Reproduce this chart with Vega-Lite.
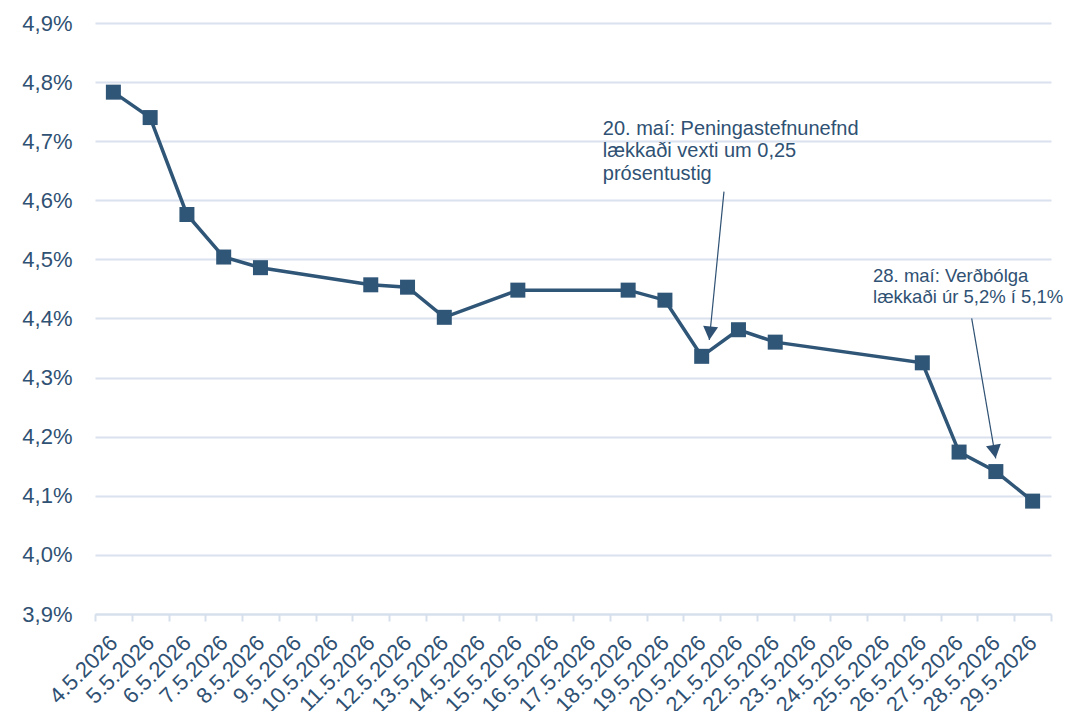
{
  "$schema": "https://vega.github.io/schema/vega-lite/v6.json",
  "width": 956,
  "height": 591,
  "autosize": {"type": "none"},
  "padding": {"left": 95, "top": 23, "right": 15, "bottom": 97},
  "background": "white",
  "config": {"view": {"stroke": null}, "font": "Liberation Sans"},
  "datasets": {
    "rates": [
      {"dagur": "4.5.2026", "vextir": 4.783},
      {"dagur": "5.5.2026", "vextir": 4.740},
      {"dagur": "6.5.2026", "vextir": 4.576},
      {"dagur": "7.5.2026", "vextir": 4.504},
      {"dagur": "8.5.2026", "vextir": 4.486},
      {"dagur": "11.5.2026", "vextir": 4.457},
      {"dagur": "12.5.2026", "vextir": 4.453},
      {"dagur": "13.5.2026", "vextir": 4.402},
      {"dagur": "15.5.2026", "vextir": 4.448},
      {"dagur": "18.5.2026", "vextir": 4.448},
      {"dagur": "19.5.2026", "vextir": 4.431},
      {"dagur": "20.5.2026", "vextir": 4.336},
      {"dagur": "21.5.2026", "vextir": 4.381},
      {"dagur": "22.5.2026", "vextir": 4.360},
      {"dagur": "26.5.2026", "vextir": 4.325},
      {"dagur": "27.5.2026", "vextir": 4.174},
      {"dagur": "28.5.2026", "vextir": 4.141},
      {"dagur": "29.5.2026", "vextir": 4.091}
    ],
    "notes": [
      {"id": "a", "lines": ["20. maí: Peningastefnunefnd", "lækkaði vexti um 0,25", "prósentustig"], "tx": 17.31, "ty": 4.7105, "x0": 20.606, "y0": 4.6146, "x1": 20.207, "y1": 4.3636},
      {"id": "b", "lines": ["28. maí: Verðbólga", "lækkaði úr 5,2% í 5,1%"], "tx": 24.66, "ty": 4.4623, "x0": 27.343, "y0": 4.4003, "x1": 27.996, "y1": 4.1634}
    ]
  },
  "layer": [
    {
      "data": {"name": "rates"},
      "encoding": {
        "x": {
          "field": "dagur",
          "type": "ordinal",
          "sort": null,
          "title": null,
          "scale": {
            "type": "band",
            "paddingInner": 0,
            "paddingOuter": 0,
            "domain": ["4.5.2026", "5.5.2026", "6.5.2026", "7.5.2026", "8.5.2026", "9.5.2026", "10.5.2026", "11.5.2026", "12.5.2026", "13.5.2026", "14.5.2026", "15.5.2026", "16.5.2026", "17.5.2026", "18.5.2026", "19.5.2026", "20.5.2026", "21.5.2026", "22.5.2026", "23.5.2026", "24.5.2026", "25.5.2026", "26.5.2026", "27.5.2026", "28.5.2026", "29.5.2026"]
          },
          "axis": {
            "labelAngle": -45,
            "labelAlign": "right",
            "labelBaseline": "middle",
            "labelFontSize": 22,
            "labelColor": "#2f5173",
            "labelPadding": 18,
            "tickBand": "extent",
            "domainColor": "#d6e0ec",
            "domainWidth": 2,
            "tickColor": "#d6e0ec",
            "tickWidth": 2,
            "tickSize": 7,
            "grid": false,
            "labelOverlap": false
          }
        },
        "y": {
          "field": "vextir",
          "type": "quantitative",
          "title": null,
          "scale": {"domain": [3.9, 4.9], "nice": false, "zero": false},
          "axis": {
            "values": [3.9, 4.0, 4.1, 4.2, 4.3, 4.4, 4.5, 4.6, 4.7, 4.8, 4.9],
            "labelExpr": "replace(format(datum.value, '.1f'), '.', ',') + '%'",
            "labelFontSize": 22,
            "labelColor": "#2f5173",
            "labelPadding": 23,
            "domain": false,
            "ticks": false,
            "grid": true,
            "gridColor": "#d9e2ee",
            "gridWidth": 2
          }
        }
      },
      "layer": [
        {"mark": {"type": "line", "color": "#2f5577", "strokeWidth": 3.5}},
        {"mark": {"type": "point", "shape": "square", "filled": true, "size": 225, "color": "#2f5577", "opacity": 1}}
      ]
    },
    {
      "data": {"name": "notes"},
      "layer": [
        {
          "mark": {"type": "rule", "color": "#2f5173", "strokeWidth": 1.2},
          "encoding": {
            "x": {"field": "x0", "type": "quantitative", "scale": {"domain": [3.5, 29.5], "nice": false, "zero": false}, "axis": null},
            "x2": {"field": "x1"},
            "y": {"field": "y0", "type": "quantitative", "title": null},
            "y2": {"field": "y1"}
          }
        },
        {
          "transform": [{"filter": "datum.id === 'a'"}],
          "mark": {"type": "text", "align": "left", "baseline": "alphabetic", "fontSize": 20, "lineHeight": 22.5, "color": "#2f5173"},
          "encoding": {
            "x": {"field": "tx", "type": "quantitative", "axis": null},
            "y": {"field": "ty", "type": "quantitative", "title": null},
            "text": {"field": "lines"}
          }
        },
        {
          "transform": [{"filter": "datum.id === 'b'"}],
          "mark": {"type": "text", "align": "left", "baseline": "alphabetic", "fontSize": 18.5, "lineHeight": 21.5, "color": "#2f5173"},
          "encoding": {
            "x": {"field": "tx", "type": "quantitative", "axis": null},
            "y": {"field": "ty", "type": "quantitative", "title": null},
            "text": {"field": "lines"}
          }
        },
        {
          "transform": [{"filter": "datum.id === 'a'"}],
          "mark": {"type": "point", "shape": "M0,0L-1,-1.8L1,-1.8Z", "filled": true, "size": 225, "opacity": 1, "color": "#2f5173", "angle": 5.66, "strokeWidth": 0},
          "encoding": {
            "x": {"field": "x1", "type": "quantitative", "axis": null},
            "y": {"field": "y1", "type": "quantitative", "title": null}
          }
        },
        {
          "transform": [{"filter": "datum.id === 'b'"}],
          "mark": {"type": "point", "shape": "M0,0L-1,-1.8L1,-1.8Z", "filled": true, "size": 225, "opacity": 1, "color": "#2f5173", "angle": -9.73, "strokeWidth": 0},
          "encoding": {
            "x": {"field": "x1", "type": "quantitative", "axis": null},
            "y": {"field": "y1", "type": "quantitative", "title": null}
          }
        }
      ]
    }
  ],
  "resolve": {"scale": {"x": "independent"}}
}
